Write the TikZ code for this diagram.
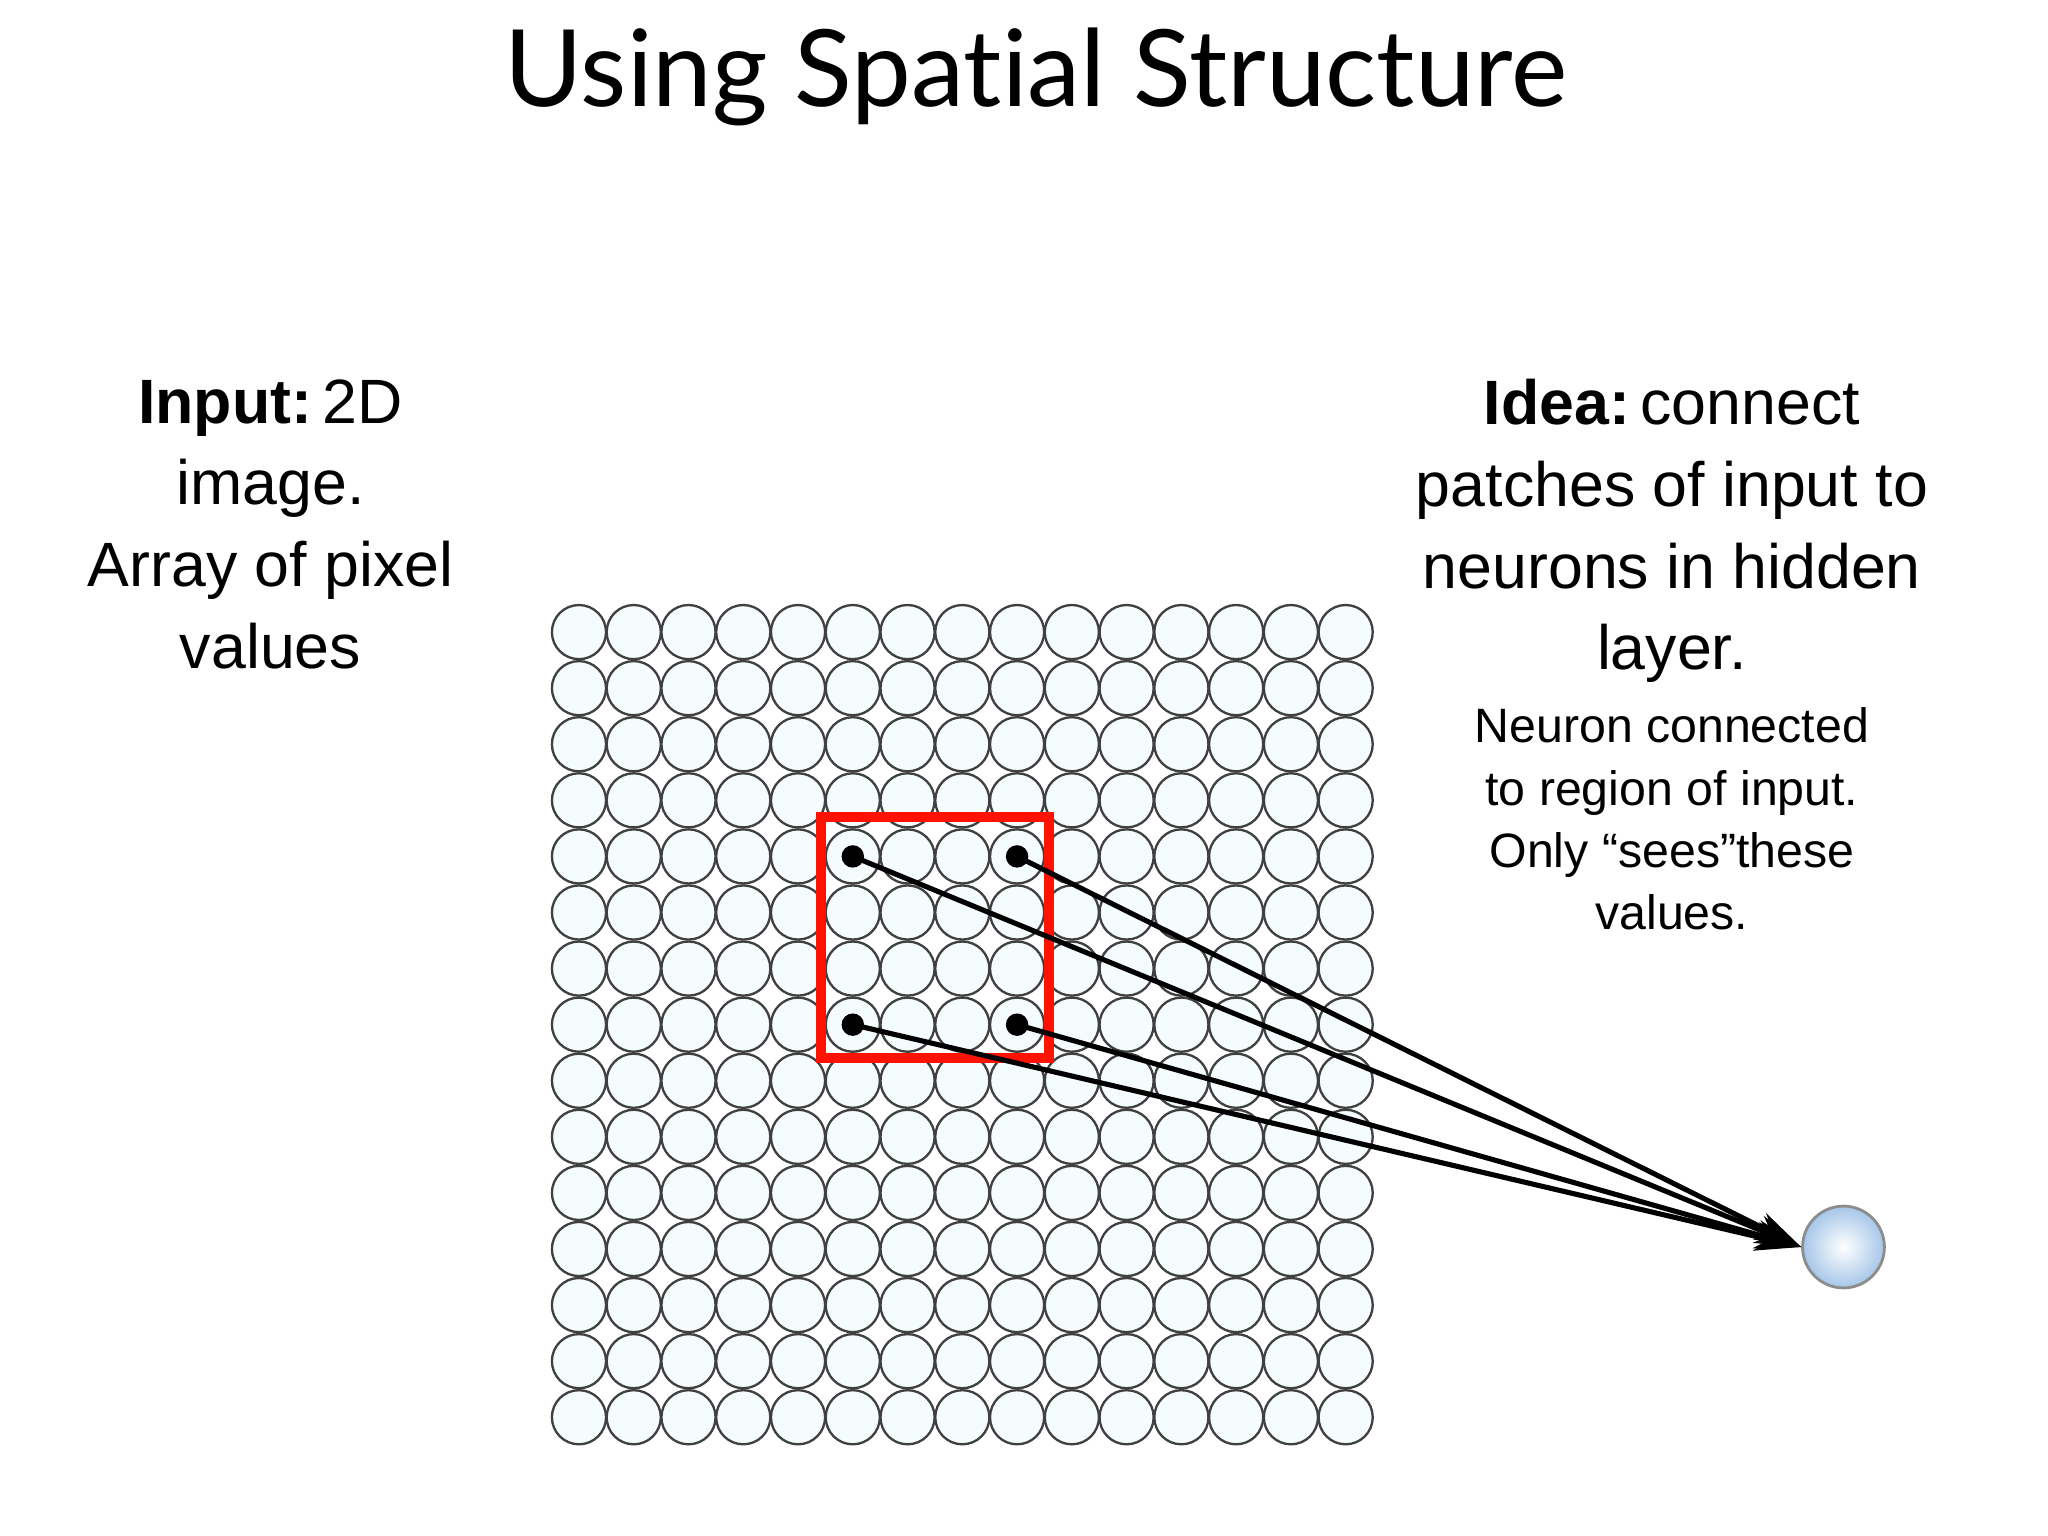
\documentclass[tikz,border=0pt]{standalone}
\usepackage{fontspec}
\setmainfont{Liberation Sans}
\newfontfamily\titlefont{Lato}
\usetikzlibrary{arrows.meta}
\definecolor{ncol}{RGB}{165,198,232}
\begin{document}
\begin{tikzpicture}[x=0.01cm,y=-0.01cm,
  pix/.style={circle,draw=black!75,line width=0.5pt,fill=cyan!4,minimum size=0.41cm,inner sep=0pt},
  dotn/.style={circle,fill=black,minimum size=0.17cm,inner sep=0pt},
  conn/.style={line width=1.1pt,-{Stealth[length=0.35cm,width=0.22cm]}},
  bigtxt/.style={align=center,font=\fontsize{13.5}{17.6}\selectfont},
  smalltxt/.style={align=center,font=\fontsize{10.4}{13.4}\selectfont}]
\useasboundingbox (0,0) rectangle (1552,1164);
\node[font=\titlefont\fontsize{23}{28}\selectfont] (title) at (785,58) {Using Spat\kern0pt ial Structure};
\foreach \i in {0,...,14}{\foreach \j in {0,...,14}{
  \node[pix] (c-\i-\j) at ({438.75+\i*41.5},{479+\j*42.5}) {};}}
\draw[red!85!orange,line width=2.2pt] (622,619) rectangle (795,802);
\node[dotn] (d1) at (c-5-4) {};
\node[dotn] (d2) at (c-8-4) {};
\node[dotn] (d3) at (c-5-7) {};
\node[dotn] (d4) at (c-8-7) {};
\node[circle,draw=black!45,line width=0.6pt,inner color=white,outer color=ncol,minimum size=0.62cm] (n) at (1397,945) {};
\foreach \d in {d1,d2,d3,d4}{\draw[conn] (\d.center) -- (n.west);}
\node[bigtxt,anchor=north] (lt) at (205,275) {\textbf{Input:}\,2D\\image.\\Array of pixel\\values};
\node[bigtxt,anchor=north] (rt) at (1267,275) {\textbf{Idea:}\,connect\\patches of input to\\neurons in hidden\\layer.};
\node[smalltxt,anchor=north] (rs) at (1267,524) {Neuron connected\\to region of input.\\Only “sees”these\\values.};
\end{tikzpicture}
\end{document}
